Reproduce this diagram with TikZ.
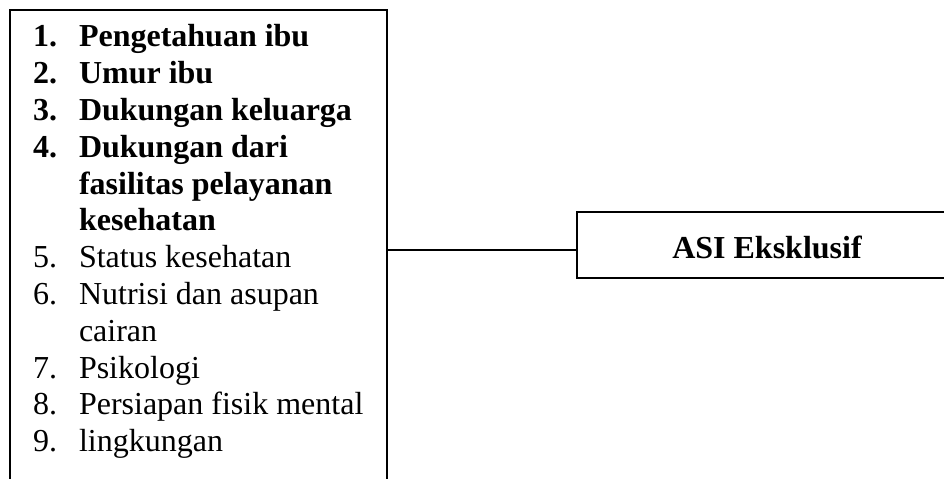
\documentclass[tikz,border=0pt]{standalone}
\usepackage{fontspec}
\setmainfont{Liberation Serif}
\begin{document}
\begin{tikzpicture}[x=0.375pt,y=-0.375pt, line width=0.75pt,
  item/.style={anchor=base west, inner sep=0pt, font=\fontsize{12}{13.8}\selectfont},
  bitem/.style={anchor=base west, inner sep=0pt, font=\fontsize{12}{13.8}\selectfont\bfseries},
  boxstyle/.style={draw, inner sep=0pt}]
\useasboundingbox (0,0) rectangle (944,479);
\clip (0,0) rectangle (944,479);
% left box (open at the bottom, runs off the page)
\node[boxstyle, minimum width=141.375pt, minimum height=191.25pt] (lb) at (198.5,265) {};
% right box (runs off the right edge)
\node[boxstyle, minimum width=142.5pt, minimum height=24.75pt,
      font=\fontsize{12}{13.8}\selectfont\bfseries] (rb) at (767,245)
      {\raisebox{-1.1pt}[\height][\depth]{ASI Eksklusif}};
% list
\node[bitem] (n1) at (32,47)    {1.};
\node[bitem] (t1) at (78,47)    {Pengetahuan ibu};
\node[bitem] (n2) at (32,83.8)  {2.};
\node[bitem] (t2) at (78,83.8)  {Umur ibu};
\node[bitem] (n3) at (32,120.6) {3.};
\node[bitem] (t3) at (78,120.6) {Dukungan keluarga};
\node[bitem] (n4) at (32,157.4) {4.};
\node[bitem] (t4) at (78,157.4) {Dukungan dari};
\node[bitem] (t4b) at (78,194.2) {fasilitas pelayanan};
\node[bitem] (t4c) at (78,231)  {kesehatan};
\node[item] (n5) at (32,267.8)  {5.};
\node[item] (t5) at (78,267.8)  {Status kesehatan};
\node[item] (n6) at (32,304.6)  {6.};
\node[item] (t6) at (78,304.6)  {Nutrisi dan asupan};
\node[item] (t6b) at (78,341.4) {cairan};
\node[item] (n7) at (32,378.2)  {7.};
\node[item] (t7) at (78,378.2)  {Psikologi};
\node[item] (n8) at (32,415)    {8.};
\node[item] (t8) at (78,415)    {Persiapan fisik mental};
\node[item] (n9) at (32,451.8)  {9.};
\node[item] (t9) at (78,451.8)  {lingkungan};
% connector
\coordinate (c) at (lb.east |- {(0,250)});
\draw (c) -- (c -| rb.west);
\end{tikzpicture}
\end{document}
